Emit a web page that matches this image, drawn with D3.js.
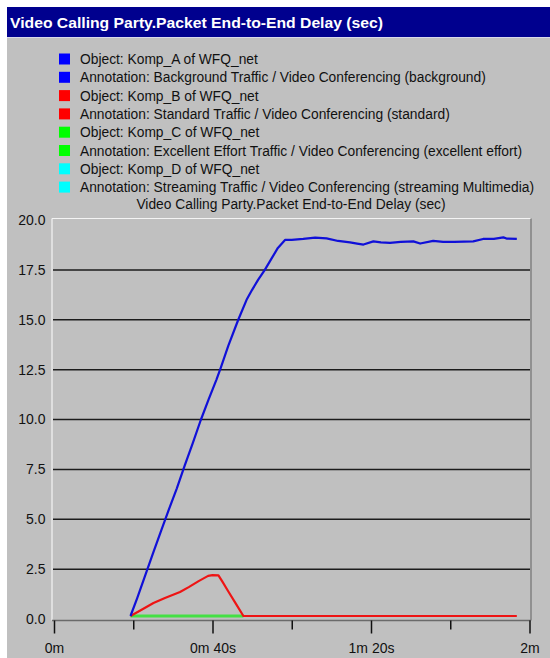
<!DOCTYPE html>
<html>
<head>
<meta charset="utf-8">
<script src="https://cdn.jsdelivr.net/npm/d3@7"></script>
<style>
  html, body { margin: 0; padding: 0; background: #ffffff; }
  svg { display: block; }
  text { font-family: "Liberation Sans", Arial, sans-serif; }
</style>
</head>
<body>
<svg id="chart" width="550" height="658"></svg>
<script>
// ---- chart data ----
const chartTitle = "Video Calling Party.Packet End-to-End Delay (sec)";
const plotTitle = "Video Calling Party.Packet End-to-End Delay (sec)";

const legendLabels = [
  "Object: Komp_A of WFQ_net",
  "Annotation: Background Traffic / Video Conferencing (background)",
  "Object: Komp_B of WFQ_net",
  "Annotation: Standard Traffic / Video Conferencing (standard)",
  "Object: Komp_C of WFQ_net",
  "Annotation: Excellent Effort Traffic / Video Conferencing (excellent effort)",
  "Object: Komp_D of WFQ_net",
  "Annotation: Streaming Traffic / Video Conferencing (streaming Multimedia)"
];
const legendColors = ["#0000ff", "#0000ff", "#ff0000", "#ff0000", "#00ff00", "#00ff00", "#00ffff", "#00ffff"];

// simulation time (seconds) and delay (sec) per object
const kompA_t = [19.3, 21, 23.4, 25, 27, 29, 31, 33, 35, 37, 39, 41, 42.1, 44, 46.5, 48.6, 50, 51.5, 53.2, 55, 56.5, 58.3,
                 60, 62.9, 65.9, 68.8, 71.7, 74.7, 76.5, 78.1, 80.6, 82.5, 84.8, 87.5, 90.7, 92.4, 95.7, 98.2, 101,
                 103.5, 105.8, 108.3, 111, 113.4, 114.2, 116.8];
const kompA_v = [0.15, 1.05, 2.4, 3.3, 4.4, 5.5, 6.55, 7.7, 8.8, 9.95, 11.0, 12.0, 12.6, 13.7, 15.0, 16.0, 16.5, 17.0, 17.5, 18.1, 18.6, 19.0,
                 19.0, 19.05, 19.12, 19.08, 18.95, 18.88, 18.82, 18.77, 18.93, 18.88, 18.85, 18.9, 18.93, 18.82, 18.95, 18.9, 18.9,
                 18.92, 18.93, 19.05, 19.05, 19.13, 19.07, 19.05];

const kompB_t = [19.3, 22, 25.1, 28, 31.8, 34, 36.5, 38.9, 40, 41.5, 42.5, 44, 46, 47.8, 116.8];
const kompB_v = [0.15, 0.45, 0.8, 1.05, 1.35, 1.6, 1.9, 2.16, 2.2, 2.19, 1.87, 1.38, 0.73, 0.15, 0.15];

const kompC_t = [19.3, 47.8];
const kompC_v = [0.15, 0.15];

const yTicks = [0, 2.5, 5, 7.5, 10, 12.5, 15, 17.5, 20];
const gridValues = [2.5, 5, 7.5, 10, 12.5, 15, 17.5];
const xMajorTicks = [0, 40, 80, 120];
const xMajorLabels = ["0m", "0m 40s", "1m 20s", "2m"];
const xMinorTicks = [20, 60, 100];

// ---- drawing ----
const svg = d3.select("#chart");
const W = 550, H = 658;

// window: grey panel with a title bar
svg.append("rect").attr("x", 0).attr("y", 0).attr("width", W).attr("height", H).attr("fill", "#ffffff");
svg.append("rect").attr("x", 7).attr("y", 7).attr("width", W - 7).attr("height", H - 7).attr("fill", "#c0c0c0");
svg.append("rect").attr("x", 7).attr("y", 7).attr("width", W - 7).attr("height", 30).attr("fill", "#00008e");
svg.append("line").attr("x1", 7).attr("x2", W).attr("y1", 37.5).attr("y2", 37.5)
  .attr("stroke", "#d8d8ea").attr("stroke-width", 1);

// fit a text element to a given width
function fitWidth(sel, w) {
  sel.attr("textLength", w).attr("lengthAdjust", "spacingAndGlyphs");
}

const title = svg.append("text")
  .attr("x", 10).attr("y", 28)
  .attr("fill", "#ffffff")
  .attr("font-size", 14).attr("font-weight", "bold")
  .text(chartTitle);
fitWidth(title, 373);

// legend
const legend = svg.append("g");
const rowY = i => 59 + i * 18.3;
legend.selectAll("rect.swatch").data(legendColors).join("rect")
  .attr("class", "swatch")
  .attr("x", 59).attr("y", (d, i) => rowY(i) - 5.5)
  .attr("width", 11).attr("height", 11)
  .attr("fill", d => d);
const legendText = legend.selectAll("text").data(legendLabels).join("text")
  .attr("x", 80).attr("y", (d, i) => rowY(i) + 5)
  .attr("font-size", 14).attr("fill", "#111")
  .text(d => d);

// condense legend text so the longest line spans the panel
const natural = legendText.nodes().map(n => n.getComputedTextLength());
const k = 454 / d3.max(natural);
legendText.each(function (d, i) { fitWidth(d3.select(this), natural[i] * k); });

const sub = svg.append("text")
  .attr("x", 291).attr("y", 209)
  .attr("text-anchor", "middle")
  .attr("font-size", 14).attr("fill", "#111")
  .text(plotTitle);
fitWidth(sub, sub.node().getComputedTextLength() * k);

// scales
const x = d3.scaleLinear().domain([0, 120]).range([54, 529.5]);
const y = d3.scaleLinear().domain([0, 20]).range([619, 220]);

const plotL = 52, plotR = 531, plotT = 218.5, plotB = 620.5;

// gridlines
svg.append("g").selectAll("line").data(gridValues).join("line")
  .attr("x1", plotL + 1).attr("x2", plotR - 1)
  .attr("y1", d => y(d)).attr("y2", d => y(d))
  .attr("stroke", "#1c1c1c").attr("stroke-width", 1.5);

// plot frame: light top/left, dark right/bottom
svg.append("line").attr("x1", plotL).attr("x2", plotR).attr("y1", plotT).attr("y2", plotT)
  .attr("stroke", "#f4f4f4").attr("stroke-width", 1.2);
svg.append("line").attr("x1", plotL).attr("x2", plotL).attr("y1", plotT).attr("y2", plotB)
  .attr("stroke", "#f4f4f4").attr("stroke-width", 1.2);
svg.append("line").attr("x1", plotR).attr("x2", plotR).attr("y1", plotT).attr("y2", plotB)
  .attr("stroke", "#808080").attr("stroke-width", 1.5);
svg.append("line").attr("x1", plotL).attr("x2", plotR).attr("y1", plotB).attr("y2", plotB)
  .attr("stroke", "#6a6a6a").attr("stroke-width", 1.5);

// y axis labels
const yAxis = d3.axisLeft(y).tickValues(yTicks).tickFormat(d3.format(".1f")).tickSize(0).tickPadding(6);
const gy = svg.append("g").attr("transform", `translate(${plotL - 0.5},0)`).call(yAxis);
gy.select(".domain").remove();
gy.selectAll("text").attr("font-size", 14).attr("fill", "#111")
  .attr("font-family", "Liberation Sans, Arial, sans-serif");

// x axis: major ticks with labels, minor ticks without
const xMajor = d3.axisBottom(x).tickValues(xMajorTicks)
  .tickFormat((d, i) => xMajorLabels[i]).tickSize(13).tickPadding(10);
const gxM = svg.append("g").attr("transform", `translate(0,${plotB})`).call(xMajor);
gxM.select(".domain").remove();
gxM.selectAll("line").attr("stroke", "#111").attr("stroke-width", 1.5);
gxM.selectAll("text").attr("font-size", 14).attr("fill", "#111")
  .attr("font-family", "Liberation Sans, Arial, sans-serif");

const xMinor = d3.axisBottom(x).tickValues(xMinorTicks).tickFormat("").tickSize(9);
const gxm = svg.append("g").attr("transform", `translate(0,${plotB})`).call(xMinor);
gxm.select(".domain").remove();
gxm.selectAll("line").attr("stroke", "#111").attr("stroke-width", 1.5);

// series
const line = d3.line().x(d => x(d[0])).y(d => y(d[1]));
const series = [
  { t: kompC_t, v: kompC_v, color: "#44e044", width: 3.2 },
  { t: kompB_t, v: kompB_v, color: "#ee1414", width: 2.2 },
  { t: kompA_t, v: kompA_v, color: "#1010d8", width: 2.2 }
];
svg.append("g").selectAll("path").data(series).join("path")
  .attr("d", s => line(d3.zip(s.t, s.v)))
  .attr("fill", "none")
  .attr("stroke", s => s.color)
  .attr("stroke-width", s => s.width)
  .attr("stroke-linejoin", "round");
</script>
</body>
</html>
